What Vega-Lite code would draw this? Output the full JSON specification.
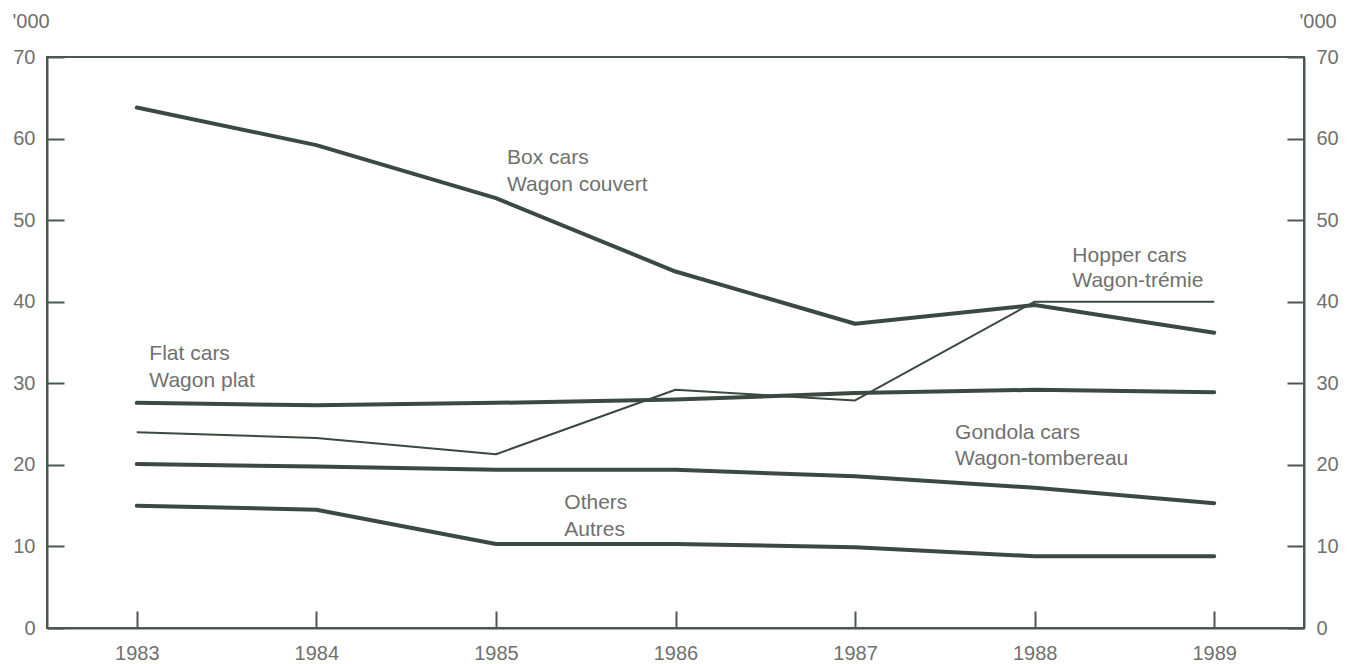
{
  "$schema": "https://vega.github.io/schema/vega-lite/v6.json",
  "width": 1257,
  "height": 571,
  "autosize": {"type": "none"},
  "padding": {"left": 47, "top": 57, "right": 50, "bottom": 36},
  "background": "white",
  "config": {
    "view": {"stroke": "#4a584f", "strokeWidth": 2},
    "font": "Liberation Sans",
    "axis": {
      "labelFont": "Liberation Sans",
      "labelFontSize": 20,
      "labelColor": "#6f716e",
      "tickColor": "#4a584f",
      "tickWidth": 2,
      "tickSize": -17,
      "domainColor": "#4a584f",
      "domainWidth": 2,
      "grid": false,
      "titleFont": "Liberation Sans",
      "titleFontSize": 20,
      "titleFontWeight": "normal",
      "titleColor": "#6f716e"
    }
  },
  "datasets": {
    "series": [
      {"series": "Box cars", "year": 1983, "value": 63.8},
      {"series": "Box cars", "year": 1984, "value": 59.2},
      {"series": "Box cars", "year": 1985, "value": 52.7},
      {"series": "Box cars", "year": 1986, "value": 43.7},
      {"series": "Box cars", "year": 1987, "value": 37.3},
      {"series": "Box cars", "year": 1988, "value": 39.6},
      {"series": "Box cars", "year": 1989, "value": 36.2},
      {"series": "Flat cars", "year": 1983, "value": 27.6},
      {"series": "Flat cars", "year": 1984, "value": 27.3},
      {"series": "Flat cars", "year": 1985, "value": 27.6},
      {"series": "Flat cars", "year": 1986, "value": 28.0},
      {"series": "Flat cars", "year": 1987, "value": 28.8},
      {"series": "Flat cars", "year": 1988, "value": 29.2},
      {"series": "Flat cars", "year": 1989, "value": 28.9},
      {"series": "Hopper cars", "year": 1983, "value": 24.0},
      {"series": "Hopper cars", "year": 1984, "value": 23.3},
      {"series": "Hopper cars", "year": 1985, "value": 21.3},
      {"series": "Hopper cars", "year": 1986, "value": 29.2},
      {"series": "Hopper cars", "year": 1987, "value": 27.9},
      {"series": "Hopper cars", "year": 1988, "value": 40.0},
      {"series": "Hopper cars", "year": 1989, "value": 40.0},
      {"series": "Gondola cars", "year": 1983, "value": 20.1},
      {"series": "Gondola cars", "year": 1984, "value": 19.8},
      {"series": "Gondola cars", "year": 1985, "value": 19.4},
      {"series": "Gondola cars", "year": 1986, "value": 19.4},
      {"series": "Gondola cars", "year": 1987, "value": 18.6},
      {"series": "Gondola cars", "year": 1988, "value": 17.2},
      {"series": "Gondola cars", "year": 1989, "value": 15.3},
      {"series": "Others", "year": 1983, "value": 15.0},
      {"series": "Others", "year": 1984, "value": 14.5},
      {"series": "Others", "year": 1985, "value": 10.3},
      {"series": "Others", "year": 1986, "value": 10.3},
      {"series": "Others", "year": 1987, "value": 9.9},
      {"series": "Others", "year": 1988, "value": 8.8},
      {"series": "Others", "year": 1989, "value": 8.8}
    ],
    "labels": [
      {"x": 1985.062, "y": 56.88, "text": "Box cars"},
      {"x": 1985.062, "y": 53.57, "text": "Wagon couvert"},
      {"x": 1983.07, "y": 32.86, "text": "Flat cars"},
      {"x": 1983.07, "y": 29.58, "text": "Wagon plat"},
      {"x": 1985.381, "y": 14.55, "text": "Others"},
      {"x": 1985.381, "y": 11.28, "text": "Autres"},
      {"x": 1988.21, "y": 44.91, "text": "Hopper cars"},
      {"x": 1988.21, "y": 41.77, "text": "Wagon-trémie"},
      {"x": 1987.557, "y": 23.13, "text": "Gondola cars"},
      {"x": 1987.557, "y": 19.98, "text": "Wagon-tombereau"}
    ]
  },
  "layer": [
    {
      "data": {"name": "series"},
      "transform": [{"filter": "datum.series !== 'Hopper cars'"}],
      "mark": {"type": "line", "strokeWidth": 4, "color": "#3b4a41", "strokeCap": "round", "strokeJoin": "round"},
      "encoding": {
        "x": {
          "field": "year", "type": "quantitative",
          "scale": {"domain": [1982.5, 1989.5], "nice": false, "zero": false},
          "axis": {"values": [1983, 1984, 1985, 1986, 1987, 1988, 1989], "format": "d", "title": null, "labelBaseline": "alphabetic", "labelPadding": 48, "orient": "bottom"}
        },
        "y": {
          "field": "value", "type": "quantitative",
          "scale": {"domain": [0, 70], "nice": false},
          "axis": {"orient": "left", "values": [0, 10, 20, 30, 40, 50, 60, 70], "labelPadding": 29, "title": "'000", "titleAngle": 0, "titleAlign": "left", "titleBaseline": "alphabetic", "titleX": -35, "titleY": -30}
        },
        "detail": {"field": "series"}
      }
    },
    {
      "data": {"name": "series"},
      "transform": [{"filter": "datum.series === 'Hopper cars'"}],
      "mark": {"type": "line", "strokeWidth": 2, "color": "#3b4a41", "strokeJoin": "round"},
      "encoding": {
        "x": {
          "field": "year", "type": "quantitative",
          "axis": {"values": [1983, 1984, 1985, 1986, 1987, 1988, 1989], "format": "d", "title": null, "labelBaseline": "alphabetic", "labelPadding": 48, "orient": "bottom"}
        },
        "y": {
          "field": "value", "type": "quantitative",
          "axis": {"orient": "right", "values": [0, 10, 20, 30, 40, 50, 60, 70], "labelPadding": 29, "title": "'000", "titleAngle": 0, "titleAlign": "left", "titleBaseline": "alphabetic", "titleX": -5, "titleY": -30}
        }
      }
    },
    {
      "data": {"name": "labels"},
      "mark": {"type": "text", "align": "left", "baseline": "alphabetic", "fontSize": 21, "font": "Liberation Sans", "color": "#6f716e"},
      "encoding": {
        "x": {
          "field": "x", "type": "quantitative",
          "axis": {"values": [1983, 1984, 1985, 1986, 1987, 1988, 1989], "format": "d", "title": null, "labelBaseline": "alphabetic", "labelPadding": 48, "orient": "bottom"}
        },
        "y": {"field": "y", "type": "quantitative", "axis": null},
        "text": {"field": "text"}
      }
    }
  ],
  "resolve": {"axis": {"y": "independent"}}
}
